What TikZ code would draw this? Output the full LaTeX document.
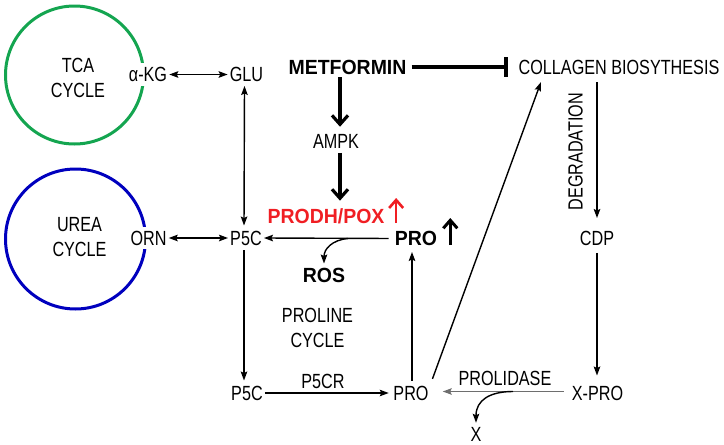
\documentclass[tikz,border=0pt]{standalone}
\usepackage{fontspec}
\setmainfont{Liberation Sans}
\newfontfamily\narrowf{Liberation Sans}[FakeStretch=0.79]
\newfontfamily\boldf{Liberation Sans}[FakeStretch=0.95]
\usetikzlibrary{arrows.meta}
\definecolor{tcagreen}{RGB}{20,165,80}
\definecolor{ureablue}{RGB}{0,0,190}
\definecolor{pred}{RGB}{240,30,35}
\definecolor{lgray}{RGB}{110,110,110}
\tikzset{
  lbl/.style={inner sep=2pt, font=\narrowf\fontsize{20.5}{25}\selectfont, align=center},
  blbl/.style={inner sep=2pt, font=\boldf\bfseries\fontsize{20.5}{25}\selectfont},
  thinarr/.style={line width=1.4pt, -{Stealth[length=9pt,width=6.5pt,inset=1.5pt]}},
  thinboth/.style={line width=1.4pt, {Stealth[length=9pt,width=6.5pt,inset=1.5pt]}-{Stealth[length=9pt,width=6.5pt,inset=1.5pt]}},
  bigarr/.style={line width=3.2pt, -{Straight Barb[length=9pt,width=16pt]}},
  uparr/.style={line width=3pt, -{Straight Barb[length=8pt,width=14pt]}},
  inhib/.style={line width=4.5pt, -{Bar[width=20pt]}},
  cyc/.style={circle, inner sep=0pt, line width=3pt},
}
\begin{document}
\begin{tikzpicture}[x=1pt,y=-1pt]
\useasboundingbox (0,0) rectangle (724,445);
% cycles
\node[cyc, draw=tcagreen, minimum size=138pt] (tca) at (74.5,75) {};
\node[cyc, draw=ureablue, minimum size=140pt] (urea) at (75.5,239) {};
\node[lbl] (tcalbl) at (78,77.5) {TCA\\CYCLE};
\node[lbl] (urealbl) at (79.5,237.5) {UREA\\CYCLE};
% labels
\node[lbl, fill=white, inner ysep=4pt] (akg) at (148,74.5) {α-KG};
\node[lbl] (glu) at (246.5,74.5) {GLU};
\node[blbl] (met) at (347.5,67) {METFORMIN};
\node[lbl] (coll) at (619,67) {COLLAGEN BIOSYTHESIS};
\node[lbl] (ampk) at (336,141) {AMPK};
\node[blbl, text=pred] (prodh) at (326,216.5) {PRODH/POX};
\node[blbl] (probig) at (416,238.5) {PRO};
\node[lbl, fill=white, inner ysep=4pt] (orn) at (148.5,238) {ORN};
\node[lbl] (p5c) at (246,238) {P5C};
\node[blbl] (ros) at (324,275) {ROS};
\node[lbl] (proline) at (317.5,327.5) {PROLINE\\CYCLE};
\node[lbl] (p5cb) at (247,393) {P5C};
\node[lbl] (p5cr) at (323,381) {P5CR};
\node[lbl] (prob) at (411,393) {PRO};
\node[lbl] (xpro) at (597.5,393) {X-PRO};
\node[lbl] (prolid) at (505,378) {PROLIDASE};
\node[lbl] (xx) at (476,434.5) {X};
\node[lbl] (cdp) at (597,238.5) {CDP};
\node[lbl, rotate=90] (degr) at (575.5,151.5) {DEGRADATION};
% connectors
\draw[thinboth] (akg) -- (glu);
\draw[thinboth, shorten <=2pt, shorten >=3pt] ([shift={(-2,0)}]glu.south) -- ([shift={(-2,0)}]p5c.north);
\draw[thinboth] (orn) -- (p5c);
\draw[bigarr, shorten <=1pt, shorten >=5pt] ([shift={(-7.5,0)}]met.south) -- ([shift={(4,0)}]ampk.north);
\draw[bigarr, shorten <=2.5pt, shorten >=6pt] ([shift={(4,0)}]ampk.south) -- ([shift={(14,0)}]prodh.north);
\draw[inhib, shorten <=3pt, shorten >=8pt] (met.east) -- (coll.west);
\draw[thinarr, shorten <=4pt] (probig.west) -- (p5c.east);
\coordinate (rosbr) at (348,238.5);
\draw[thinarr, shorten >=2pt] (rosbr) .. controls (332,240) and (324,249) .. (ros.north);
\draw[thinarr, shorten <=3pt, shorten >=3pt] ([shift={(-2,0)}]p5c.south) -- ([shift={(-3,0)}]p5cb.north);
\draw[thinarr, shorten >=2.5pt] (p5cb) -- (prob);
\draw[thinarr, shorten <=3pt, shorten >=4pt] ([shift={(1,0)}]prob.north) -- ([shift={(1,0)}]prob.north |- probig.south);
\draw[thinarr, shorten <=5pt, shorten >=6pt] (prob.north east) -- ([shift={(-76,0)}]coll.south);
\draw[thinarr, shorten <=6pt, shorten >=11pt] ([shift={(-22,0)}]coll.south) -- (cdp.north);
\draw[thinarr, shorten <=5pt, shorten >=8pt] (cdp.south) -- ([shift={(-0.5,0)}]xpro.north);
\draw[line width=1.3pt, lgray, -{Stealth[length=9pt,width=6.5pt,inset=1.5pt]}, shorten <=6pt, shorten >=12pt] ([shift={(0,-1.5)}]xpro.west) -- ([shift={(0,-1.5)}]prob.east);
\coordinate (xbr) at (513,391.5);
\draw[thinarr, shorten >=2.5pt] (xbr) .. controls (490,391.5) and (476,400) .. (xx.north);
% up arrows (part of labels)
\draw[uparr, pred, line width=2.6pt] ([shift={(9.5,6.5)}]prodh.east) -- ([shift={(9.5,-18.5)}]prodh.east);
\draw[uparr] ([shift={(11,6.5)}]probig.east) -- ([shift={(11,-20.5)}]probig.east);
\end{tikzpicture}
\end{document}
